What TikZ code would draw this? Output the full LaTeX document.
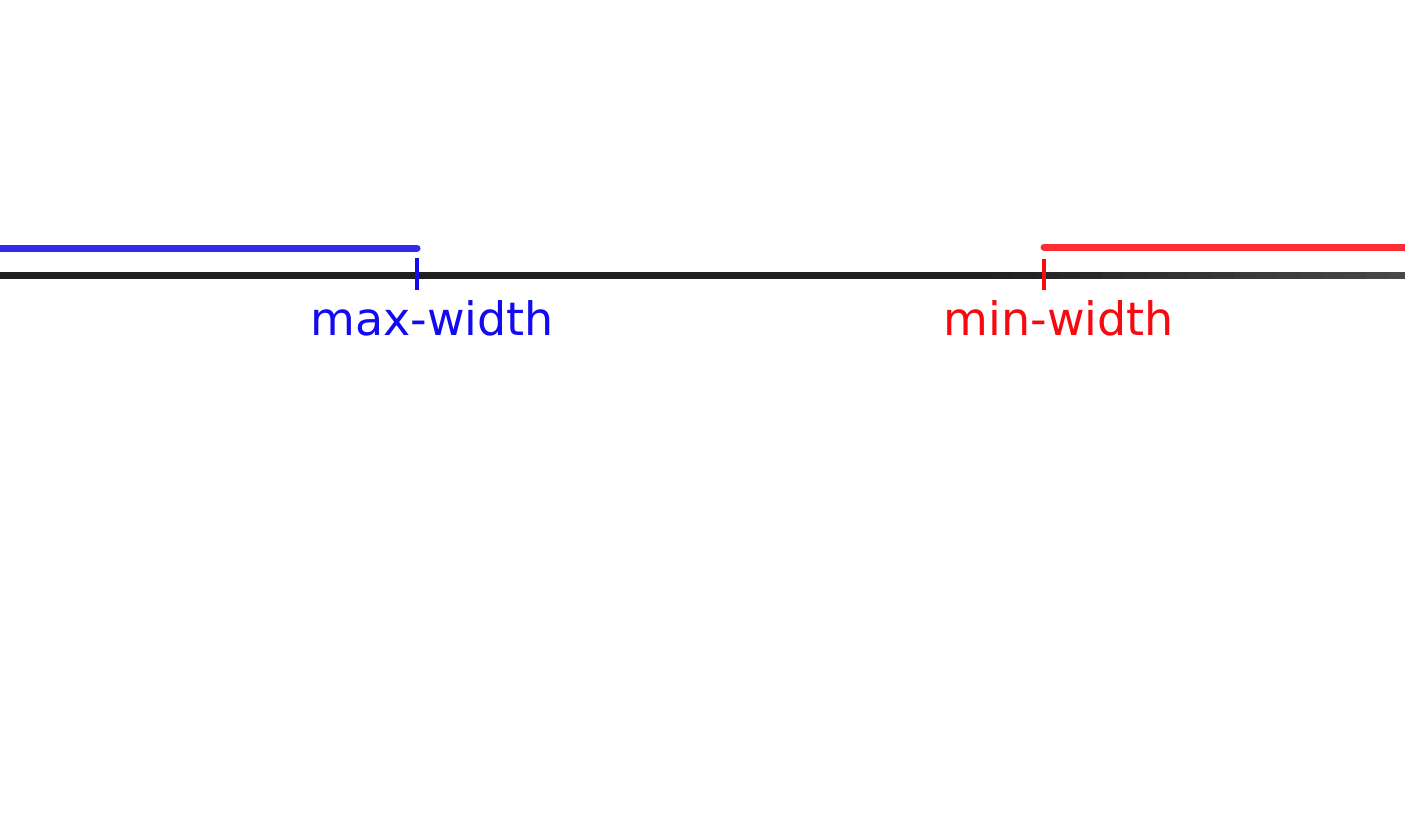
\documentclass[tikz,border=0pt]{standalone}
\usepackage{fontspec}
\setmainfont{DejaVu Sans}
\begin{document}
\begin{tikzpicture}[x=0.5pt,y=-0.5pt,
  axis/.style={line width=3.5pt,color=black!88},
  blueline/.style={line width=3.5pt,color={rgb,255:red,50;green,40;blue,240},line cap=round},
  redline/.style={line width=3.5pt,color={rgb,255:red,255;green,45;blue,50},line cap=round},
  bluetick/.style={line width=1.8pt,color={rgb,255:red,20;green,10;blue,240}},
  redtick/.style={line width=1.8pt,color={rgb,255:red,245;green,10;blue,15}},
  lbl/.style={font=\fontsize{23}{26}\selectfont,inner sep=0pt}]
\useasboundingbox[fill=white] (0,0) rectangle (1405,814);
% axis
\coordinate (a0) at (0,275);
\coordinate (am) at (971,275);
\coordinate (a1) at (1405,275);
\draw[axis] (a0) -- (am);
\foreach \i in {0,...,19}{
  \pgfmathsetmacro{\xa}{970+\i*22}
  \pgfmathsetmacro{\xb}{970+(\i+1)*22+1}
  \pgfmathsetmacro{\shadev}{88-\i*0.85}
  \draw[line width=3.5pt,color=black!\shadev] (\xa,275) -- (\xb,275);
}
% blue range
\coordinate (b0) at (-5,248);
\coordinate (b1) at (417,248);
\draw[blueline] (b0) -- (b1);
\coordinate (bt0) at (417,258);
\coordinate (bt1) at (417,290);
\draw[bluetick] (bt0) -- (bt1);
\node[lbl,text={rgb,255:red,20;green,10;blue,240}] (maxw) at (432,318) {max-width};
% red range
\coordinate (r0) at (1044,247);
\coordinate (r1) at (1410,247);
\draw[redline] (r0) -- (r1);
\coordinate (rt0) at (1044,259);
\coordinate (rt1) at (1044,290);
\draw[redtick] (rt0) -- (rt1);
\node[lbl,text={rgb,255:red,245;green,10;blue,15}] (minw) at (1059,318) {min-width};
\end{tikzpicture}
\end{document}
